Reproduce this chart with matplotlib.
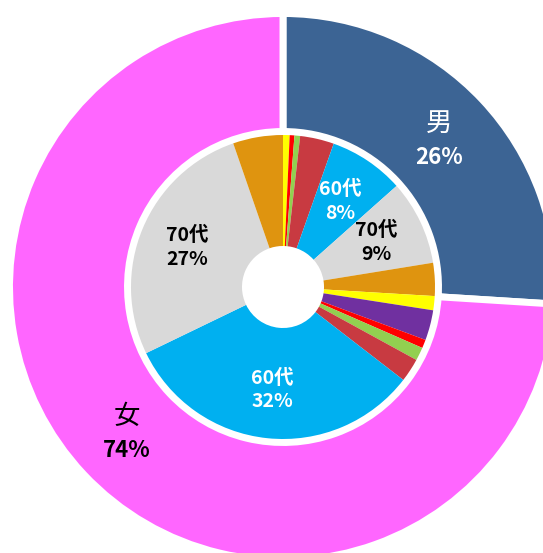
import numpy as np
import matplotlib
matplotlib.use('Agg')
import matplotlib.pyplot as plt

plt.rcParams['font.family'] = ['Noto Sans CJK JP', 'DejaVu Sans']

# outer ring: sex share (%)
sexes = ['男', '女']
sex_share = [26, 74]
sex_colors = ['#3C6494', '#FF66FF']

# inner pie: age groups per sex (% of total), clockwise from 12 o'clock
ages = ['10代', '20代', '30代', '40代', '50代', '60代', '70代', '80代']
male = [0.7, 0.0, 0.5, 0.6, 3.6, 8.0, 9.0, 3.5]
female = [1.5, 3.2, 0.9, 1.4, 2.5, 32.3, 26.8, 5.3]
age_colors = ['#FFFF00', '#7030A0', '#FF0000', '#92D050', '#C83A41',
              '#00B0F0', '#D9D9D9', '#DF940F']
labelled = ['60代', '70代']

fig = plt.figure(figsize=(5.43, 5.53), dpi=100)
ax = fig.add_axes([0, 0, 1, 1])

cx, cy = 283, 266
R_out, w_out = 273.5, 118
R_in, w_in = 152, 111

wo, _ = ax.pie(sex_share, radius=R_out, center=(cx, cy), startangle=90,
               counterclock=False, colors=sex_colors,
               wedgeprops=dict(width=w_out, edgecolor='white', linewidth=5))

vals = male + female
wi, _ = ax.pie(vals, radius=R_in, center=(cx, cy), startangle=90,
               counterclock=False, colors=age_colors * 2,
               wedgeprops=dict(width=w_in, linewidth=0))

def mid(w, r):
    a = np.deg2rad((w.theta1 + w.theta2) / 2)
    return cx + r * np.cos(a), cy + r * np.sin(a)

# inner labels
tot = sum(vals)
for i, w in enumerate(wi):
    age = ages[i % len(ages)]
    if age not in labelled:
        continue
    x, y = mid(w, 0.68 * R_in)
    c = 'white' if age == '60代' else 'black'
    ax.text(x, y, f"{age}\n{round(vals[i] / tot * 100)}%", color=c,
            fontsize=14, fontweight='bold', ha='center', va='center',
            linespacing=1.3)

# outer labels
for s, p, w, c in zip(sexes, sex_share, wo, ['white', 'black']):
    x, y = mid(w, R_out - w_out / 2)
    ax.annotate(s, (x, y), xytext=(0, 17), textcoords='offset pixels',
                fontsize=19, color=c, ha='center', va='center')
    ax.annotate(f"{p}%", (x, y), xytext=(0, -17), textcoords='offset pixels',
                fontsize=16, fontweight='bold', color=c, ha='center', va='center')

ax.set_xlim(0, 543)
ax.set_ylim(0, 553)
ax.set_aspect('equal')
ax.set_axis_off()

plt.savefig('out.png', dpi=100)
